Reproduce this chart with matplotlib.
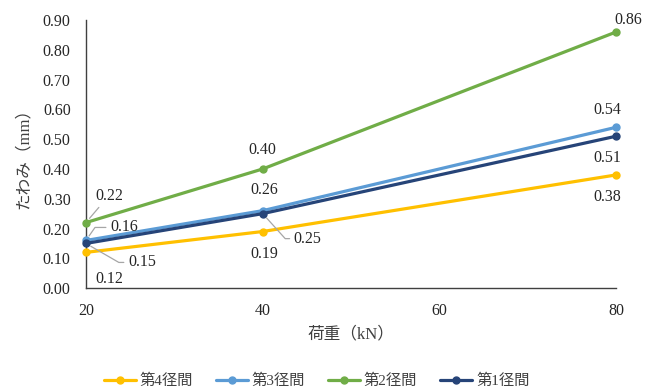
import matplotlib
matplotlib.use("Agg")
import matplotlib.pyplot as plt

loads = [20, 40, 80]
series_names = ["第4径間", "第3径間", "第2径間", "第1径間"]
span4 = [0.12, 0.19, 0.38]
span3 = [0.16, 0.26, 0.54]
span2 = [0.22, 0.40, 0.86]
span1 = [0.15, 0.25, 0.51]
colors = ["#FFC000", "#5B9BD5", "#70AD47", "#264478"]
x_ticks = [20, 40, 60, 80]
y_ticks = [0.0, 0.1, 0.2, 0.3, 0.4, 0.5, 0.6, 0.7, 0.8, 0.9]

serif = "Liberation Serif"
mixed = ["Liberation Serif", "Noto Sans CJK JP", "DejaVu Sans"]
cjk = ["Noto Sans CJK JP", "DejaVu Sans"]

fig = plt.figure(figsize=(6.46, 3.92), dpi=100)
ax = fig.add_axes([0.133, 0.265, 0.821, 0.684])

all_series = [span4, span3, span2, span1]
for vals, name, c in zip(all_series, series_names, colors):
    ax.plot(loads, vals, color=c, lw=2.3, marker="o", ms=5, label=name,
            solid_capstyle="round", clip_on=False, zorder=3)

ax.set_xlim(20, 80)
ax.set_ylim(0, 0.9)
ax.set_xticks(x_ticks)
ax.set_yticks(y_ticks)
ax.set_xticklabels([str(v) for v in x_ticks], fontfamily=serif, fontsize=11.5, color="#262626")
ax.set_yticklabels([f"{v:.2f}" for v in y_ticks], fontfamily=serif, fontsize=11.5, color="#262626")
ax.tick_params(axis="x", length=0, pad=11)
ax.tick_params(axis="y", length=0, pad=11)
for s in ["top", "right"]:
    ax.spines[s].set_visible(False)
for s in ["left", "bottom"]:
    ax.spines[s].set_color("#404040")
    ax.spines[s].set_linewidth(1.0)

ax.set_xlabel("荷重（kN）", fontfamily=mixed, fontsize=12, color="#404040", labelpad=5)
ax.set_ylabel("たわみ（mm）", fontfamily=mixed, fontsize=12, color="#404040", labelpad=8)

# data labels: (series index, point index, dx, dy pixels, leader angle or None)
labels = [
    (2, 0, 23, 27, "straight"),
    (1, 0, 38, 13, 55),
    (3, 0, 56, -19, -30),
    (0, 0, 23, -27, None),
    (1, 1, 2, 21, None),
    (3, 1, 45, -25, -48),
    (0, 1, 2, -22, None),
    (2, 1, 0, 19, None),
    (2, 2, 12, 12, None),
    (1, 2, -9, 17, None),
    (3, 2, -9, -22, None),
    (0, 2, -9, -22, None),
]
for si, pi, dx, dy, leader in labels:
    v = all_series[si][pi]
    kw = {}
    if leader == "straight":
        kw["arrowprops"] = dict(arrowstyle="-", color="#A6A6A6", lw=0.9,
                                shrinkA=1, shrinkB=4)
    elif leader is not None:
        kw["arrowprops"] = dict(arrowstyle="-", color="#A6A6A6", lw=0.9,
                                shrinkA=1, shrinkB=4,
                                connectionstyle=f"angle,angleA=0,angleB={leader},rad=0")
    ax.annotate(f"{v:.2f}", xy=(loads[pi], v), xytext=(dx, dy),
                textcoords="offset pixels", ha="center", va="center",
                fontfamily=serif, fontsize=11.5, color="#262626",
                annotation_clip=False, **kw)

leg = fig.legend(loc="center", bbox_to_anchor=(0.49, 0.028), ncol=4, frameon=False,
                 prop={"family": mixed, "size": 11}, handlelength=2.1,
                 columnspacing=1.5, handletextpad=0.25)
for t in leg.get_texts():
    t.set_color("#404040")

fig.savefig("out.png", dpi=100)
